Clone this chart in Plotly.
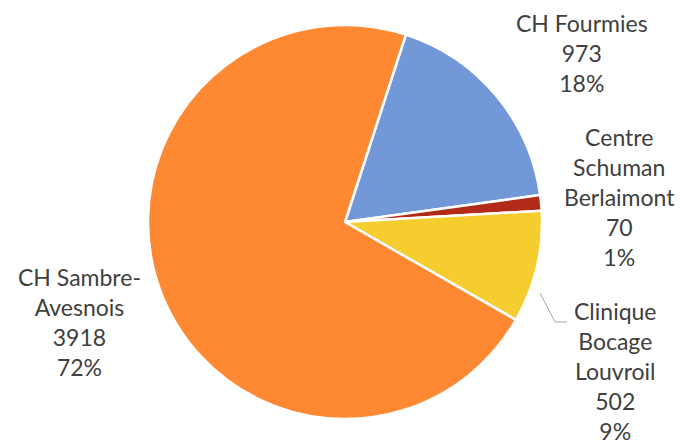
import plotly.graph_objects as go

labels = ["CH Fourmies", "Centre Schuman Berlaimont", "Clinique Bocage Louvroil", "CH Sambre-Avesnois"]
label_lines = ["CH Fourmies", "Centre<br>Schuman<br>Berlaimont", "Clinique<br>Bocage<br>Louvroil", "CH Sambre-<br>Avesnois"]
values = [973, 70, 502, 3918]

colors = ["#7398D8", "#B22B18", "#F5CD2F", "#FF8933"]
# label positions in pixels (x center, y center)
label_pos = [(582, 53), (619, 197), (615, 371), (79, 322)]

W, H = 683, 444
total = sum(values)

fig = go.Figure(go.Pie(
    labels=labels, values=values, sort=False, direction="clockwise", rotation=18,
    marker=dict(colors=colors, line=dict(color="white", width=2.5)),
    textinfo="none", hoverinfo="skip", showlegend=False,
    domain=dict(x=[148 / W, 542 / W], y=[25 / H, 1 - 25 / H]),
))

for lab, v, (px, py) in zip(label_lines, values, label_pos):
    pct = round(v / total * 100)
    fig.add_annotation(
        x=px / W, y=1 - py / H, xref="paper", yref="paper",
        text=f"{lab}<br>{v}<br>{pct}%", showarrow=False,
        xanchor="center", yanchor="middle", align="center",
        font=dict(family="Lato", size=23, color="#404040"),
    )

# leader line for Clinique label
fig.add_shape(type="path", xref="paper", yref="paper",
              path=f"M {540/W} {1-293/H} L {555/W} {1-322/H} L {567/W} {1-322/H}",
              line=dict(color="#A6A6A6", width=1))

fig.update_layout(width=W, height=H, margin=dict(l=0, r=0, t=0, b=0),
                  paper_bgcolor="white", plot_bgcolor="white")
fig.write_html("out.html", config={"displayModeBar": False},
               post_script="document.body.style.margin='0';")
